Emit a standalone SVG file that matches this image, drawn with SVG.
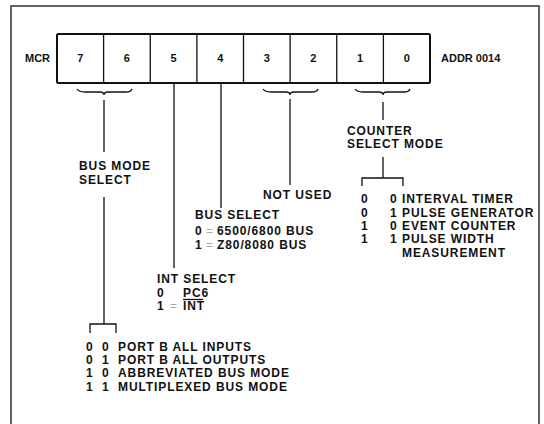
<svg xmlns="http://www.w3.org/2000/svg" width="544" height="424" viewBox="0 0 544 424">
<style>
.t{font-family:"Liberation Sans",Arial,sans-serif;font-weight:bold;font-size:12px;fill:#111;letter-spacing:0.9px}
.d{font-family:"Liberation Sans",Arial,sans-serif;font-weight:bold;font-size:11px;fill:#111;text-anchor:middle}
.s{font-family:"Liberation Sans",Arial,sans-serif;font-weight:bold;font-size:11px;fill:#111}
.eq{fill:#aaa;font-weight:normal}
.ln{fill:none;stroke:#111;stroke-width:1.3}
.box{fill:#fff;stroke:#111;stroke-width:2}
</style>
<rect width="544" height="424" fill="#fff"/>
<path d="M11,430 V6 H539 V430" fill="none" stroke="#333" stroke-width="1.5"/>

<g id="register">
<text class="s" x="25" y="62">MCR</text>
<rect class="box" x="57" y="34" width="373" height="49" rx="1.5"/>
<path class="ln" stroke-width="2" d="M103.6,34V83M150.25,34V83M196.9,34V83M243.5,34V83M290.1,34V83M336.75,34V83M383.4,34V83"/>
<text class="d" x="80.3" y="62">7</text>
<text class="d" x="126.9" y="62">6</text>
<text class="d" x="173.6" y="62">5</text>
<text class="d" x="220.2" y="62">4</text>
<text class="d" x="266.8" y="62">3</text>
<text class="d" x="313.4" y="62">2</text>
<text class="d" x="360.1" y="62">1</text>
<text class="d" x="406.7" y="62">0</text>
<text class="s" x="441" y="62">ADDR 0014</text>
</g>

<g id="connectors">
<path class="ln" d="M77,89 Q79,92 85,92 H100 Q104,92 104,95 Q104,92 108,92 H126 Q131,92 132,89"/>
<path class="ln" d="M263,89 Q265,92 271,92 H286 Q290,92 290,95 Q290,92 294,92 H312 Q317,92 318,89"/>
<path class="ln" d="M355,89 Q357,92 363,92 H379 Q383,92 383,95 Q383,92 387,92 H404 Q409,92 410,89"/>
<path class="ln" d="M104,100V152M104,197V324M90,333V324H116V333"/>
<path class="ln" d="M174,83V268"/>
<path class="ln" d="M221,83V208"/>
<path class="ln" d="M290,99V185"/>
<path class="ln" d="M383,102V120M383,157V178M362,186V178H403V186"/>
</g>

<g id="bus-mode">
<text class="t" x="79" y="170">BUS MODE</text>
<text class="t" x="79" y="184">SELECT</text>
<text class="t" x="86" y="351">0</text><text class="t" x="102" y="351">0</text><text class="t" x="118" y="351">PORT B ALL INPUTS</text>
<text class="t" x="86" y="364">0</text><text class="t" x="102" y="364">1</text><text class="t" x="118" y="364">PORT B ALL OUTPUTS</text>
<text class="t" x="86" y="377">1</text><text class="t" x="102" y="377">0</text><text class="t" x="118" y="377">ABBREVIATED BUS MODE</text>
<text class="t" x="86" y="391">1</text><text class="t" x="102" y="391">1</text><text class="t" x="118" y="391">MULTIPLEXED BUS MODE</text>
</g>

<g id="int-select">
<text class="t" x="157" y="283">INT SELECT</text>
<text class="t" x="157" y="297">0</text><text class="t" x="183" y="297">PC6</text>
<text class="t" x="157" y="310">1</text><text class="t eq" x="170" y="310">=</text><text class="t" x="183" y="310">INT</text>
<path class="ln" stroke-width="1" d="M183,299.5H203"/>
</g>

<g id="bus-select">
<text class="t" x="195" y="219">BUS SELECT</text>
<text class="t" x="195" y="235">0</text><text class="t eq" x="206" y="235">=</text><text class="t" x="217" y="235">6500/6800 BUS</text>
<text class="t" x="195" y="249">1</text><text class="t eq" x="206" y="249">=</text><text class="t" x="217" y="249">Z80/8080 BUS</text>
</g>

<g id="not-used">
<text class="t" x="263" y="199">NOT USED</text>
</g>

<g id="counter-mode">
<text class="t" x="347" y="135">COUNTER</text>
<text class="t" x="347" y="148">SELECT MODE</text>
<text class="t" x="361" y="203">0</text><text class="t" x="390" y="203">0</text><text class="t" x="402" y="203">INTERVAL TIMER</text>
<text class="t" x="361" y="217">0</text><text class="t" x="390" y="217">1</text><text class="t" x="402" y="217">PULSE GENERATOR</text>
<text class="t" x="361" y="230">1</text><text class="t" x="390" y="230">0</text><text class="t" x="402" y="230">EVENT COUNTER</text>
<text class="t" x="361" y="243">1</text><text class="t" x="390" y="243">1</text><text class="t" x="402" y="243">PULSE WIDTH</text>
<text class="t" x="402" y="257">MEASUREMENT</text>
</g>
</svg>
